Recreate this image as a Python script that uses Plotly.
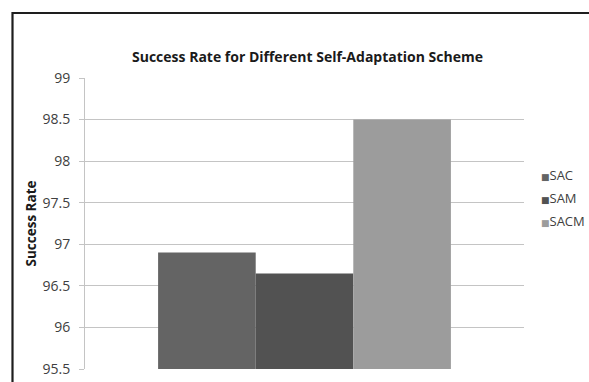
import plotly.graph_objects as go

series = ["SAC", "SAM", "SACM"]
values = [96.9, 96.65, 98.5]
colors = ["#646464", "#525252", "#9c9c9c"]
category = [""]
y_ticks = [95.5, 96, 96.5, 97, 97.5, 98, 98.5, 99]
y_tick_text = ["95.5", "96", "96.5", "97", "97.5", "98", "98.5", "99"]

W, H = 589, 382
L, R, T, B = 85, 65, 78, 13
pw, ph = W - L - R, H - T - B

def px_x(px):
    return (px - L) / pw

def px_y(py):
    return (H - B - py) / ph

fig = go.Figure()
for name, val, col in zip(series, values, colors):
    fig.add_trace(go.Bar(x=category, y=[val], name=name,
                         marker=dict(color=col, line=dict(width=0)),
                         showlegend=False))

for i, (name, col) in enumerate(zip(series, colors)):
    fig.add_trace(go.Scatter(
        x=[None], y=[None], mode="markers",
        marker=dict(color="rgba(0,0,0,0)", size=1, line=dict(width=0, color="rgba(0,0,0,0)")),
        name=f"<span style='color:{col};font-size:9px;font-family:DejaVu Sans'>■</span>{name}",
        legendgroup=f"g{i}", showlegend=True,
    ))

fig.update_layout(
    width=W, height=H,
    margin=dict(l=L, r=R, t=T, b=B, pad=0, autoexpand=False),
    paper_bgcolor="white", plot_bgcolor="white",
    barmode="group", bargap=0.333, bargroupgap=0,
    font=dict(family="Open Sans", size=13, color="#404040"),
    title=dict(text="<b>Success Rate for Different Self-Adaptation Scheme</b>",
               x=px_x(307.5), xref="paper", xanchor="center",
               y=1 - 57 / H, yanchor="middle",
               font=dict(family="Open Sans", size=14, color="#1a1a1a")),
    legend=dict(x=px_x(541 - 40), xanchor="left", y=px_y(160), yanchor="top",
                bgcolor="rgba(0,0,0,0)", font=dict(size=13, color="#404040"),
                tracegroupgap=3, itemwidth=30),
    showlegend=True,
)
fig.update_xaxes(showticklabels=False, showline=False, showgrid=False, ticks="", fixedrange=True)
fig.update_yaxes(range=[95.5, 99], tickvals=y_ticks, ticktext=y_tick_text,
                 showgrid=True, gridcolor="#c4c4c4", gridwidth=1,
                 showline=True, linecolor="#c4c4c4", linewidth=1,
                 ticks="outside", ticklen=5, tickcolor="#c4c4c4",
                 ticklabelstandoff=6, zeroline=False,
                 tickfont=dict(family="Open Sans", size=14, color="#404040"),
                 title=dict(text="<b>Success Rate</b>", standoff=2,
                            font=dict(family="Open Sans", size=13.5, color="#1a1a1a")))

# chart frame (cropped at right and bottom)
fig.add_shape(type="path", xref="paper", yref="paper",
              path=f"M {px_x(12.5)},{px_y(420)} L {px_x(12.5)},{px_y(13)} L {px_x(640)},{px_y(13)}",
              line=dict(color="#1e1e1e", width=2.2))

fig.write_html("out.html")
